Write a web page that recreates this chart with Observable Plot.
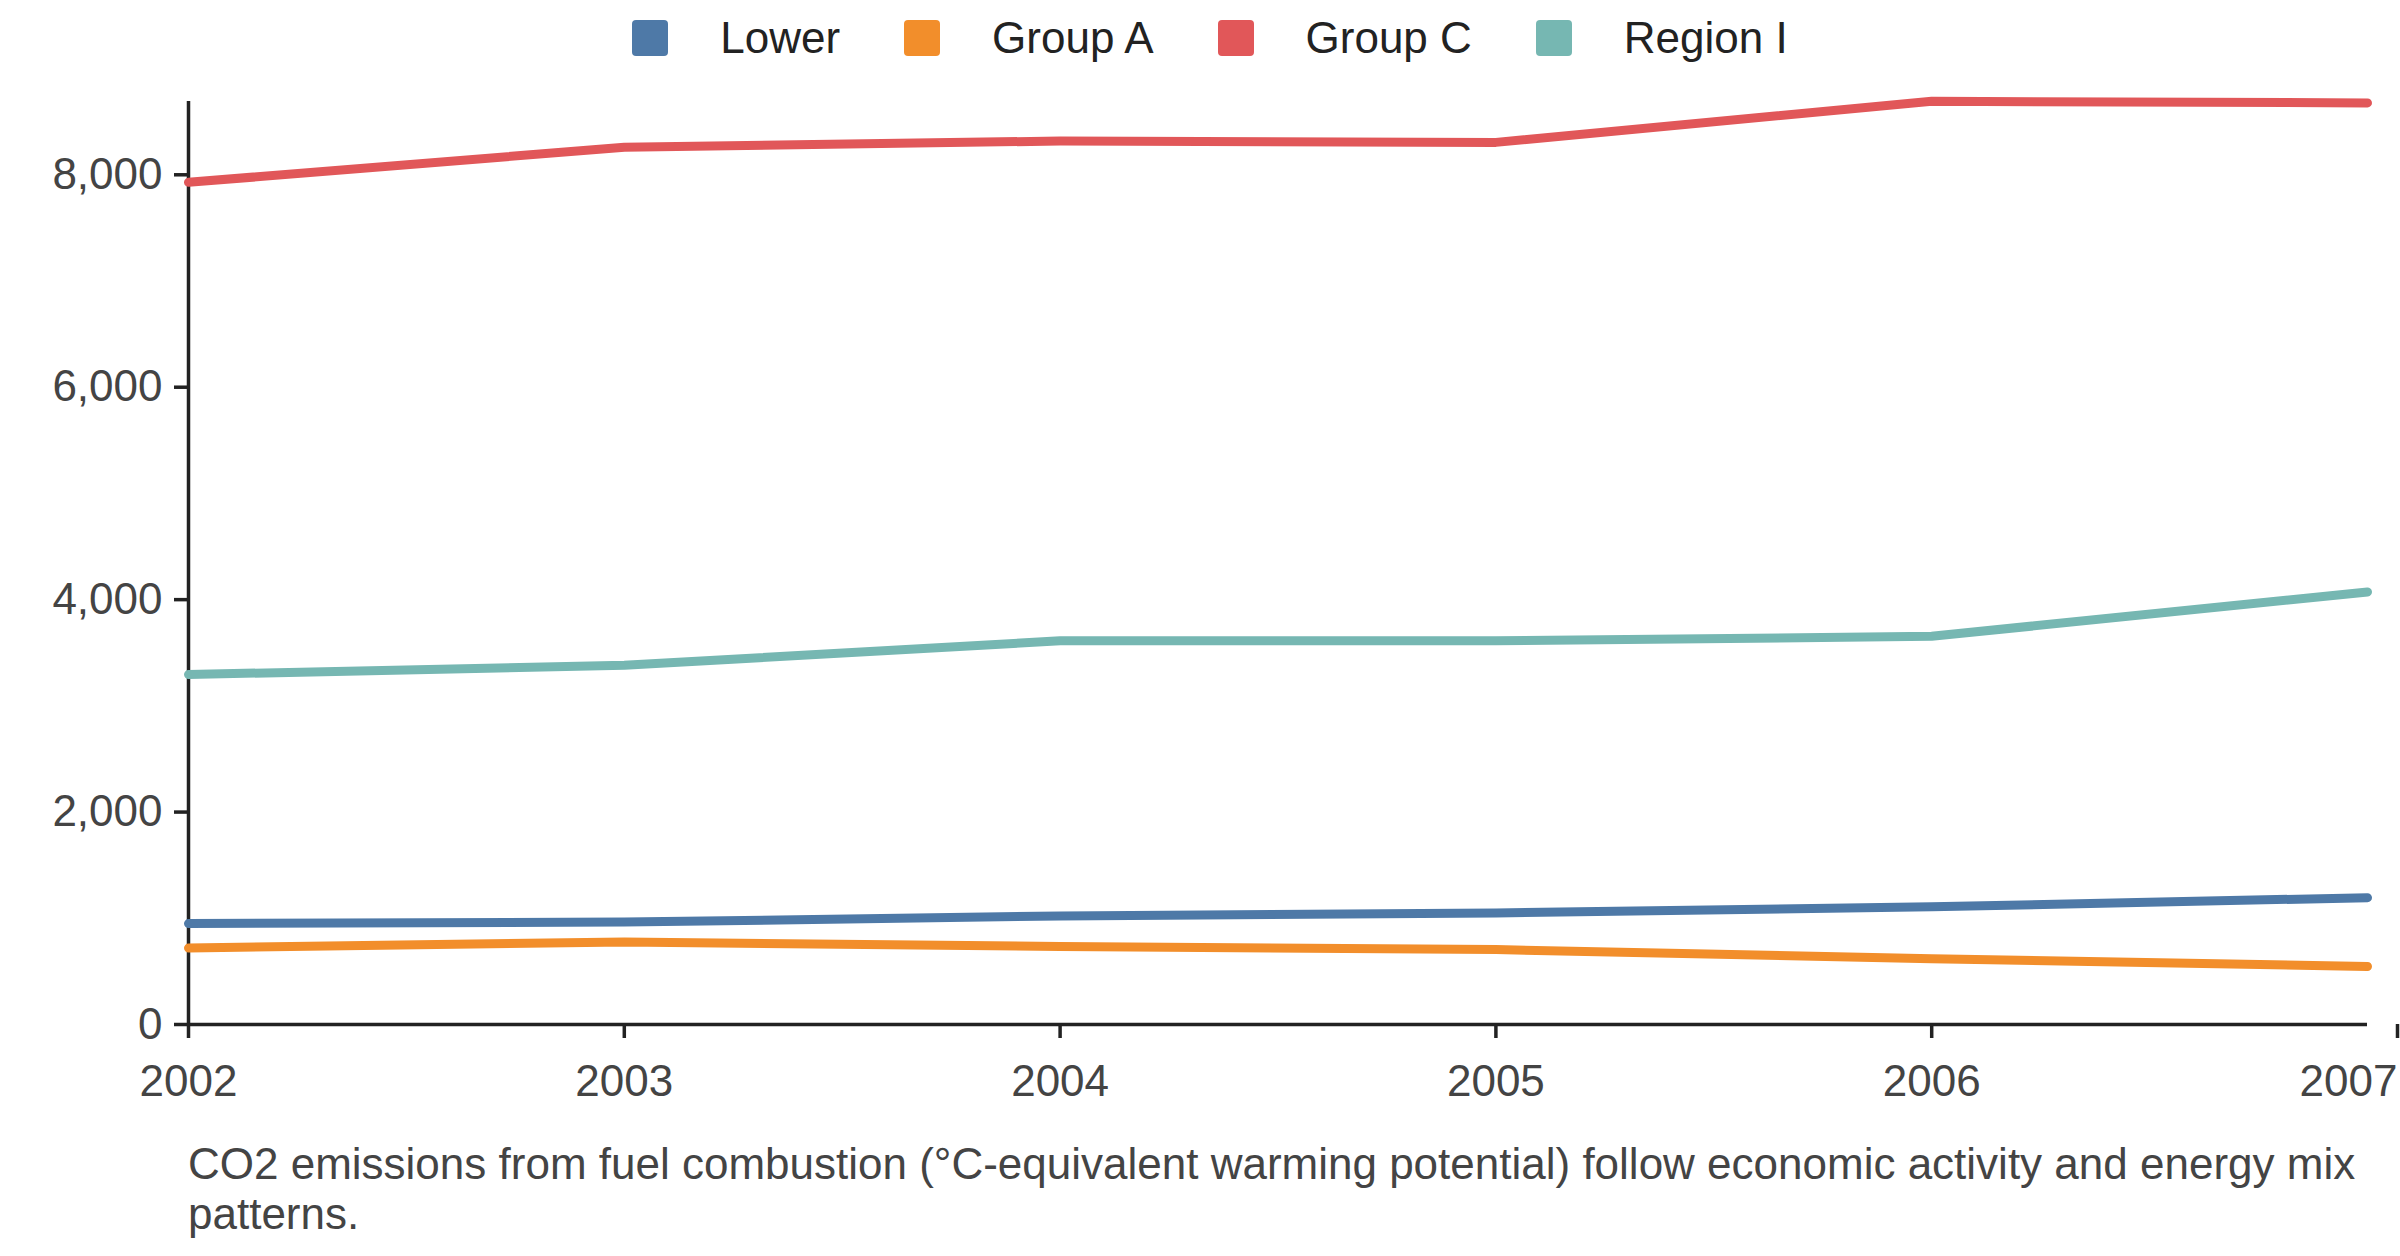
<!DOCTYPE html>
<html><head><meta charset="utf-8">
<script src="https://cdn.jsdelivr.net/npm/d3@7"></script>
<script src="https://cdn.jsdelivr.net/npm/@observablehq/plot@0.6"></script>
<style>
body{margin:0;background:#fff;font-family:"Liberation Sans",Arial,sans-serif;width:2400px;}
#legend{height:75px;display:flex;justify-content:center;align-items:center;font-size:44px;color:#222;padding-left:20px;box-sizing:border-box}
.item{display:flex;align-items:center;margin:0 32px}
.sw{width:36px;height:36px;border-radius:4px;margin-right:52px}
#cap{margin-left:188px;width:2190px;font-size:44px;line-height:50px;color:#444;margin-top:4px}
</style></head><body>
<div id="legend"></div>
<div id="chart"></div>
<div id="cap">CO2 emissions from fuel combustion (°C-equivalent warming potential) follow economic activity and energy mix patterns.</div>
<script>
const years = [2002, 2003, 2004, 2005, 2006, 2007];
const seriesNames = ["Lower", "Group A", "Group C", "Region I"];
const colors = ["#4e79a7", "#f28e2b", "#e15759", "#76b7b2"];
const lower = [950, 964, 1022, 1050, 1108, 1194];
const groupA = [720, 777, 734, 705, 619, 547];
const groupC = [7929, 8260, 8318, 8305, 8692, 8677];
const regionI = [3295, 3382, 3612, 3612, 3655, 4072];
const yTicks = [0, 2000, 4000, 6000, 8000];

const all = [lower, groupA, groupC, regionI];
const data = [];
seriesNames.forEach((s, i) => years.forEach((y, j) => data.push({series: s, year: y, value: all[i][j]})));

const leg = document.getElementById("legend");
seriesNames.forEach((s, i) => {
  const d = document.createElement("div"); d.className = "item";
  d.innerHTML = `<span class="sw" style="background:${colors[i]}"></span><span>${s}</span>`;
  leg.appendChild(d);
});

const ymax = 8690;
const fmtY = d3.format(",");
const chart = Plot.plot({
  width: 2400, height: 1060,
  marginLeft: 188, marginRight: 33, marginTop: 26, marginBottom: 111,
  style: {fontFamily: '"Liberation Sans", Arial, sans-serif', fontSize: "44px", color: "#444", background: "#fff"},
  x: {domain: [2002, 2007], label: null},
  y: {domain: [0, ymax], label: null},
  color: {domain: seriesNames, range: colors},
  marks: [
    Plot.axisX(years.slice(0, -1), {tickFormat: d => String(d), tickSize: 14, tickPadding: 26, stroke: "#222", strokeWidth: 3.5, fill: "#444", label: null}),
    Plot.axisX(years.slice(-1), {tickFormat: d => String(d), tickSize: 14, tickPadding: 26, stroke: "#222", strokeWidth: 3.5, fill: "#444", textAnchor: "end", dx: 30, label: null}),
    Plot.axisY(yTicks, {tickFormat: fmtY, tickSize: 14, tickPadding: 12, stroke: "#222", strokeWidth: 3.5, fill: "#444", label: null}),
    Plot.ruleX([2002], {y1: 0, y2: ymax, stroke: "#222", strokeWidth: 3.5}),
    Plot.ruleY([0], {stroke: "#222", strokeWidth: 3.5}),
    Plot.line(data, {x: "year", y: "value", z: "series", stroke: "series", strokeWidth: 9, curve: "linear"})
  ]
});
document.getElementById("chart").appendChild(chart);
</script>
</body></html>
